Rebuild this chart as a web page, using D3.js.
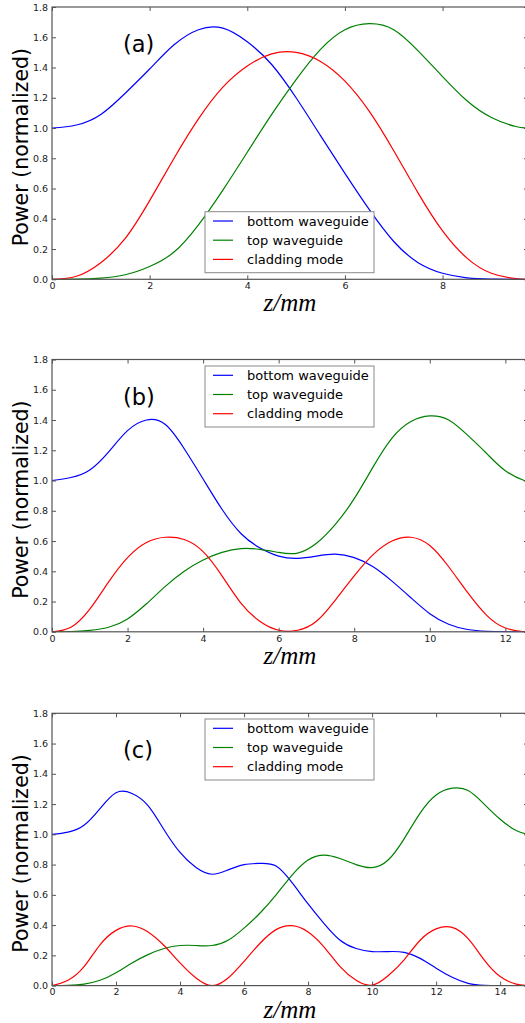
<!DOCTYPE html>
<html>
<head>
<meta charset="utf-8">
<script src="https://cdn.jsdelivr.net/npm/d3@7"></script>
<style>
  body { margin: 0; background: #fff; }
  svg { display: block; }
</style>
</head>
<body>
<svg id="chart" width="525" height="1023"></svg>
<script>
// values, z in mm
const zA = [0, 0.5, 1, 1.5, 2, 2.5, 3, 3.5, 4, 4.5, 5, 5.5, 6, 6.5, 7, 7.5, 8, 8.5, 9, 9.5, 9.75];
const bottomA = [1.00, 1.02, 1.09, 1.23, 1.39, 1.55, 1.65, 1.66, 1.57, 1.42, 1.20, 0.95, 0.70, 0.46, 0.25, 0.11, 0.04, 0.01, 0.002, 0, 0];
const topA = [0, 0.001, 0.008, 0.03, 0.085, 0.18, 0.36, 0.59, 0.84, 1.09, 1.32, 1.52, 1.65, 1.69, 1.65, 1.51, 1.34, 1.18, 1.07, 1.01, 1.0];
const claddingA = [0, 0.02, 0.11, 0.27, 0.52, 0.80, 1.06, 1.27, 1.41, 1.49, 1.50, 1.44, 1.31, 1.11, 0.85, 0.57, 0.32, 0.14, 0.04, 0.004, 0];

const zB = [0, 0.5, 1, 1.5, 2, 2.5, 3, 3.5, 4, 4.5, 5, 5.5, 6, 6.5, 7, 7.5, 8, 8.5, 9, 9.5, 10, 10.5, 11, 11.5, 12, 12.5, 12.6];
const bottomB = [1.00, 1.02, 1.07, 1.19, 1.33, 1.40, 1.37, 1.21, 1.01, 0.81, 0.65, 0.555, 0.50, 0.485, 0.50, 0.513, 0.49, 0.43, 0.335, 0.225, 0.12, 0.05, 0.015, 0.003, 0, 0, 0];
const topB = [0, 0.002, 0.01, 0.03, 0.085, 0.185, 0.30, 0.40, 0.475, 0.525, 0.55, 0.545, 0.525, 0.52, 0.585, 0.71, 0.88, 1.09, 1.28, 1.39, 1.427, 1.40, 1.30, 1.18, 1.065, 1.0, 0.998];
const claddingB = [0, 0.03, 0.15, 0.33, 0.49, 0.59, 0.625, 0.61, 0.53, 0.37, 0.19, 0.07, 0.01, 0.01, 0.07, 0.21, 0.37, 0.51, 0.60, 0.625, 0.57, 0.43, 0.26, 0.11, 0.025, 0, 0];

const zC = [0, 0.5, 1, 1.5, 2, 2.5, 3, 3.5, 4, 4.5, 5, 5.5, 6, 6.5, 7, 7.5, 8, 8.5, 9, 9.5, 10, 10.5, 11, 11.5, 12, 12.5, 13, 13.5, 14, 14.5, 14.87];
const bottomC = [1.00, 1.015, 1.06, 1.17, 1.275, 1.27, 1.19, 1.03, 0.88, 0.78, 0.736, 0.765, 0.80, 0.808, 0.79, 0.68, 0.54, 0.41, 0.30, 0.245, 0.225, 0.225, 0.22, 0.18, 0.115, 0.055, 0.015, 0.002, 0, 0, 0];
const topC = [0, 0.002, 0.01, 0.035, 0.085, 0.15, 0.205, 0.245, 0.265, 0.265, 0.265, 0.30, 0.38, 0.48, 0.60, 0.73, 0.83, 0.863, 0.84, 0.80, 0.78, 0.83, 0.97, 1.14, 1.26, 1.305, 1.29, 1.20, 1.10, 1.025, 1.0];
const claddingC = [0, 0.035, 0.125, 0.27, 0.365, 0.394, 0.355, 0.265, 0.15, 0.05, 0, 0.05, 0.16, 0.28, 0.37, 0.396, 0.355, 0.255, 0.125, 0.035, 0.003, 0.065, 0.17, 0.30, 0.375, 0.385, 0.31, 0.17, 0.06, 0.01, 0];

const seriesNames = ["bottom waveguide", "top waveguide", "cladding mode"];
const seriesColors = ["#0000ff", "#008000", "#ff0000"];
const panelLabels = ["(a)", "(b)", "(c)"];
const yTicks = [0, 0.2, 0.4, 0.6, 0.8, 1.0, 1.2, 1.4, 1.6, 1.8];
const xTicksA = [0, 2, 4, 6, 8];
const xTicksB = [0, 2, 4, 6, 8, 10, 12];
const xTicksC = [0, 2, 4, 6, 8, 10, 12, 14];

const panels = [
  { z: zA, series: [bottomA, topA, claddingA], xTicks: xTicksA },
  { z: zB, series: [bottomB, topB, claddingB], xTicks: xTicksB },
  { z: zC, series: [bottomC, topC, claddingC], xTicks: xTicksC }
];

// layout
const left = 52, right = 528, plotH = 272.3;
const panelTops = [7, 359.5, 713.3];
const legendTops = [204.7, 6.5, 5.7];
const frameColor = "#555";

const svg = d3.select("#chart");

function styleAxis(g, showText) {
  g.select(".domain").remove();
  g.selectAll(".tick line").attr("stroke", frameColor).attr("stroke-width", 1);
  g.selectAll(".tick text")
    .attr("fill", "#222")
    .attr("font-family", "DejaVu Sans")
    .attr("font-size", 9.5)
    .style("display", showText ? null : "none");
}

function drawPanel(p, i) {
  const top = panelTops[i];
  const zMax = p.z[p.z.length - 1];
  const x = d3.scaleLinear().domain([0, zMax]).range([left, right]);
  const y = d3.scaleLinear().domain([0, 1.8]).range([top + plotH, top]);

  const g = svg.append("g");

  g.append("clipPath")
    .attr("id", "clip" + i)
    .append("rect")
    .attr("x", left)
    .attr("y", top - 1)
    .attr("width", right - left)
    .attr("height", plotH + 1.5);

  const line = d3
    .line()
    .x((d, k) => x(p.z[k]))
    .y((d) => y(d))
    .curve(d3.curveNatural);

  g.append("g")
    .attr("clip-path", `url(#clip${i})`)
    .selectAll("path")
    .data(p.series)
    .enter()
    .append("path")
    .attr("d", line)
    .attr("fill", "none")
    .attr("stroke", (d, k) => seriesColors[k])
    .attr("stroke-width", 1.2);

  // ticks on all four sides, pointing inward
  g.append("g")
    .attr("transform", `translate(0,${top + plotH})`)
    .call(d3.axisBottom(x).tickValues(p.xTicks).tickSizeInner(-4).tickSizeOuter(0).tickPadding(3))
    .call((a) => styleAxis(a, true));
  g.append("g")
    .attr("transform", `translate(0,${top})`)
    .call(d3.axisTop(x).tickValues(p.xTicks).tickSizeInner(-4).tickSizeOuter(0))
    .call((a) => styleAxis(a, false));
  g.append("g")
    .attr("transform", `translate(${left},0)`)
    .call(d3.axisLeft(y).tickValues(yTicks).tickFormat(d3.format(".1f")).tickSizeInner(-4).tickSizeOuter(0).tickPadding(4))
    .call((a) => styleAxis(a, true));
  g.append("g")
    .attr("transform", `translate(${right},0)`)
    .call(d3.axisRight(y).tickValues(yTicks).tickSizeInner(-4).tickSizeOuter(0))
    .call((a) => styleAxis(a, false));

  g.append("rect")
    .attr("x", left)
    .attr("y", top)
    .attr("width", right - left)
    .attr("height", plotH)
    .attr("fill", "none")
    .attr("stroke", frameColor)
    .attr("stroke-width", 1.2);

  g.append("text")
    .attr("x", left + 71)
    .attr("y", top + 45)
    .attr("font-family", "DejaVu Sans")
    .attr("font-size", 22.5)
    .text(panelLabels[i]);

  g.append("text")
    .attr("transform", `translate(28,${top + plotH / 2 + 4}) rotate(-90)`)
    .attr("text-anchor", "middle")
    .attr("font-family", "DejaVu Sans")
    .attr("font-size", 20.5)
    .text("Power (normalized)");

  g.append("text")
    .attr("x", (left + right) / 2)
    .attr("y", top + plotH + 32)
    .attr("text-anchor", "middle")
    .attr("font-family", "Liberation Serif")
    .attr("font-style", "italic")
    .attr("font-size", 25)
    .text("z/mm");

  // legend
  const lg = g.append("g").attr("transform", `translate(205,${top + legendTops[i]})`);
  lg.append("rect")
    .attr("width", 169)
    .attr("height", 61)
    .attr("fill", "#fff")
    .attr("stroke", "#8a8a8a")
    .attr("stroke-width", 1);
  const item = lg
    .selectAll("g.item")
    .data(seriesNames)
    .enter()
    .append("g")
    .attr("class", "item")
    .attr("transform", (d, k) => `translate(0,${9.3 + k * 19.2})`);
  item
    .append("line")
    .attr("x1", 8)
    .attr("x2", 28)
    .attr("stroke", (d, k) => seriesColors[k])
    .attr("stroke-width", 1.2);
  item
    .append("text")
    .attr("x", 42)
    .attr("dy", "0.36em")
    .attr("font-family", "DejaVu Sans")
    .attr("font-size", 13)
    .text((d) => d);
}

panels.forEach(drawPanel);
</script>
</body>
</html>
